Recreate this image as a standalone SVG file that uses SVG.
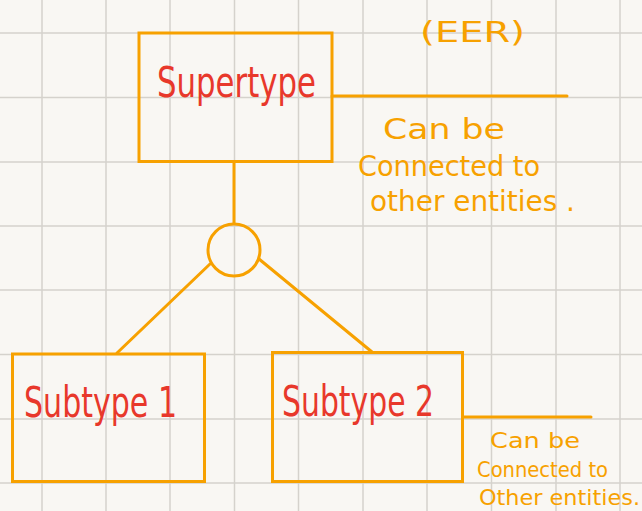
<svg xmlns="http://www.w3.org/2000/svg" width="642" height="511" viewBox="0 0 642 511">
<style>
.grid line{stroke:#D5D2CC;stroke-width:1.5}
.box{fill:none;stroke:#F7A100;stroke-width:3}
.conn{fill:none;stroke:#F7A100;stroke-width:3;stroke-linecap:round}
.lbl{font-family:"DejaVu Sans Condensed","Liberation Sans",sans-serif;fill:#E8382B}
.note{font-family:"DejaVu Sans Condensed","Liberation Sans",sans-serif;fill:#F7A100}
</style>
<rect width="642" height="511" fill="#F9F7F3"/>
<g class="grid">
<line x1="42" y1="0" x2="42" y2="511"/><line x1="106" y1="0" x2="106" y2="511"/><line x1="170" y1="0" x2="170" y2="511"/><line x1="234.5" y1="0" x2="234.5" y2="511"/><line x1="298.5" y1="0" x2="298.5" y2="511"/><line x1="363" y1="0" x2="363" y2="511"/><line x1="427" y1="0" x2="427" y2="511"/><line x1="491.5" y1="0" x2="491.5" y2="511"/><line x1="556" y1="0" x2="556" y2="511"/><line x1="620" y1="0" x2="620" y2="511"/>
<line x1="0" y1="33" x2="642" y2="33"/><line x1="0" y1="97.5" x2="642" y2="97.5"/><line x1="0" y1="162" x2="642" y2="162"/><line x1="0" y1="226" x2="642" y2="226"/><line x1="0" y1="290" x2="642" y2="290"/><line x1="0" y1="354.5" x2="642" y2="354.5"/><line x1="0" y1="419" x2="642" y2="419"/><line x1="0" y1="483" x2="642" y2="483"/>
</g>
<g id="connectors">
<line class="conn" x1="332" y1="96" x2="567" y2="96"/>
<line class="conn" x1="234" y1="162" x2="234" y2="223"/>
<line class="conn" x1="210" y1="264" x2="117" y2="353"/>
<line class="conn" x1="259" y1="259" x2="372" y2="352"/>
<line class="conn" x1="463" y1="417" x2="591" y2="417"/>
</g>
<g id="supertype">
<rect class="box" x="139" y="33" width="193" height="128.5"/>
<text class="lbl" x="157" y="97" font-size="42" textLength="159" lengthAdjust="spacingAndGlyphs">Supertype</text>
</g>
<g id="disjoint">
<circle class="box" cx="234" cy="250" r="26"/>
</g>
<g id="subtype1">
<rect class="box" x="12.5" y="354" width="192" height="127.5"/>
<text class="lbl" x="24" y="417" font-size="42" textLength="153" lengthAdjust="spacingAndGlyphs">Subtype 1</text>
</g>
<g id="subtype2">
<rect class="box" x="272.5" y="352.5" width="190" height="129"/>
<text class="lbl" x="282" y="416" font-size="42" textLength="152" lengthAdjust="spacingAndGlyphs">Subtype 2</text>
</g>
<g id="notes">
<text class="note" x="420" y="42" font-size="28" textLength="105" lengthAdjust="spacingAndGlyphs">(EER)</text>
<text class="note" x="383" y="139" font-size="28" textLength="122" lengthAdjust="spacingAndGlyphs">Can be</text>
<text class="note" x="358" y="176" font-size="28" textLength="182" lengthAdjust="spacingAndGlyphs">Connected to</text>
<text class="note" x="370" y="211" font-size="28" textLength="205" lengthAdjust="spacingAndGlyphs">other entities .</text>
<text class="note" x="490" y="448" font-size="21" textLength="90" lengthAdjust="spacingAndGlyphs">Can be</text>
<text class="note" x="477" y="477" font-size="21" textLength="131" lengthAdjust="spacingAndGlyphs">Connected to</text>
<text class="note" x="479" y="505" font-size="21" textLength="161" lengthAdjust="spacingAndGlyphs">Other entities.</text>
</g>
</svg>
